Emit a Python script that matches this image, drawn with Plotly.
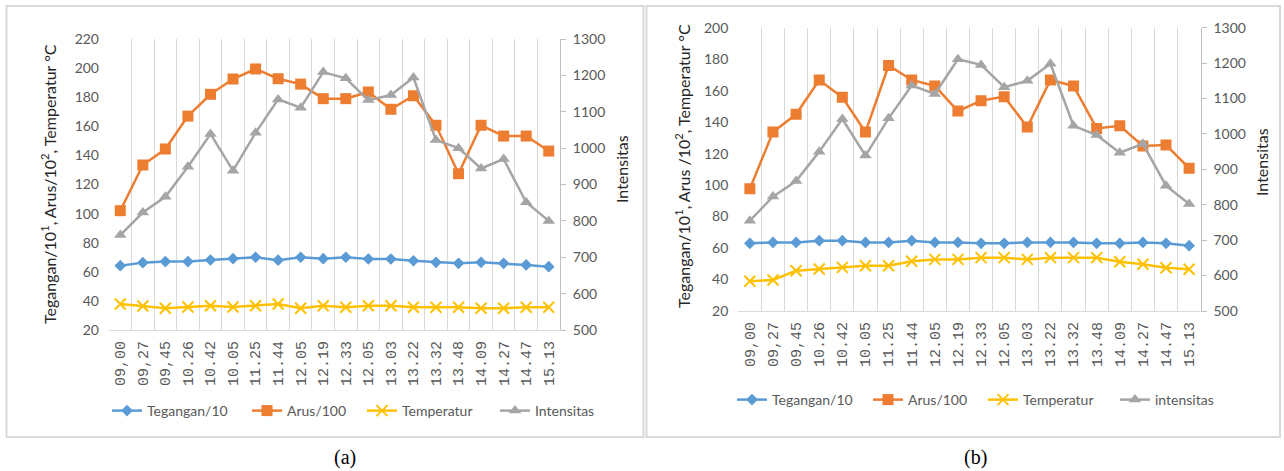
import plotly.graph_objects as go

W, H = 1284, 471

categories = ["09,00", "09,27", "09,45", "10.26", "10.42", "10.05", "11.25", "11.44", "12.05", "12.19",
              "12.33", "12.05", "13.03", "13.22", "13.32", "13.48", "14.09", "14.27", "14.47", "15.13"]

a_tegangan = [64.2, 66.3, 67, 67, 68.1, 69, 70, 68, 70, 69, 70, 68.8, 68.8, 67.6, 66.5, 65.8, 66.5, 65.8, 64.7, 63.5]
a_arus = [102, 133.4, 144.4, 167, 182, 192.5, 199.4, 192.7, 189, 179, 179, 183.6, 171.7, 181, 160.7, 127.4, 160.7, 153.3, 153.3, 143]
a_temperatur = [37.9, 36.5, 34.9, 35.8, 36.7, 35.8, 36.7, 37.9, 34.9, 36.7, 35.6, 36.7, 36.7, 35.6, 35.6, 35.6, 34.9, 34.9, 35.6, 35.6]
a_intensitas = [761, 823, 866, 949, 1039, 938, 1042, 1134, 1111, 1209, 1192, 1132, 1146, 1194, 1022, 1000, 944, 970, 851, 800]

b_tegangan = [63, 63.6, 63.6, 64.7, 64.7, 63.6, 63.6, 64.7, 63.6, 63.6, 63, 63, 63.6, 63.6, 63.6, 63, 63, 63.6, 63, 61.5]
b_arus = [97.7, 133.7, 145, 166.8, 155.8, 133.7, 176, 166.8, 163, 147, 153.6, 156.2, 136.9, 166.8, 163, 136, 137.7, 124.8, 125.5, 110.7]
b_temperatur = [38.9, 39.7, 45.6, 46.7, 47.7, 48.8, 48.8, 51.6, 52.8, 52.8, 53.9, 53.9, 52.8, 53.9, 53.9, 53.9, 51.3, 49.7, 47.5, 46.5]
b_intensitas = [755, 823, 867, 950, 1042, 939, 1044, 1137, 1113, 1211, 1195, 1132, 1150, 1198, 1023, 997, 947, 972, 854, 802]

names_a = ["Tegangan/10", "Arus/100", "Temperatur", "Intensitas"]
names_b = ["Tegangan/10", "Arus/100", "Temperatur", "intensitas"]

BLUE, ORANGE, YELLOW, GREY = "#5B9BD5", "#ED7D31", "#FFC000", "#A5A5A5"
TICK = "#595959"
GRID = "#D9D9D9"
FONT = "Lato, Carlito, 'Noto Sans', sans-serif"

xs = list(range(len(categories)))

fig = go.Figure()

def add_series(xa, ya, ya2, vals, names, legs):
    teg, aru, tem, inten = vals
    fig.add_trace(go.Scatter(x=xs, y=teg, name=names[0], mode="lines+markers", xaxis=xa, yaxis=ya,
                             line=dict(color=BLUE, width=2.5),
                             marker=dict(symbol="diamond", size=9, color=BLUE), legend=legs[0]))
    fig.add_trace(go.Scatter(x=xs, y=aru, name=names[1], mode="lines+markers", xaxis=xa, yaxis=ya,
                             line=dict(color=ORANGE, width=2.5),
                             marker=dict(symbol="square", size=11, color=ORANGE), legend=legs[1]))
    fig.add_trace(go.Scatter(x=xs, y=tem, name=names[2], mode="lines+markers", xaxis=xa, yaxis=ya,
                             line=dict(color=YELLOW, width=2.5),
                             marker=dict(symbol="x-thin", size=11, color=YELLOW,
                                         line=dict(color=YELLOW, width=2)), legend=legs[2]))
    fig.add_trace(go.Scatter(x=xs, y=inten, name=names[3], mode="lines+markers", xaxis=xa, yaxis=ya2,
                             line=dict(color=GREY, width=2.5),
                             marker=dict(symbol="triangle-up", size=11, color=GREY), legend=legs[3]))

add_series("x", "y", "y2", (a_tegangan, a_arus, a_temperatur, a_intensitas), names_a,
           ["legend", "legend2", "legend3", "legend4"])
add_series("x2", "y3", "y4", (b_tegangan, b_arus, b_temperatur, b_intensitas), names_b,
           ["legend5", "legend6", "legend7", "legend8"])

def px_x(p):
    return p / W

def px_y(p):
    return 1 - p / H

xaxis_common = dict(
    range=[-0.5, len(categories) - 0.5], tickmode="array", tickvals=xs, ticktext=categories,
    tickangle=-90, showgrid=False, showline=True, linecolor=GRID, linewidth=1, ticks="",
    ticklabelstandoff=4,
    tickfont=dict(family="'Liberation Mono', 'DejaVu Sans Mono', monospace", size=15, color=TICK),
    minor=dict(tickmode="linear", tick0=-0.5, dtick=1, showgrid=True, gridcolor=GRID, gridwidth=1, ticks=""),
    zeroline=False, fixedrange=True, automargin=False,
)

left_common = dict(showgrid=False, zeroline=False, showline=False, ticks="", automargin=False,
                   ticklabelstandoff=9,
                   tickfont=dict(family=FONT, size=14, color=TICK), tickmode="linear", dtick=20)
right_common = dict(showgrid=False, zeroline=False, showline=True, linecolor="#BFBFBF", linewidth=1,
                    ticks="outside", ticklen=5, tickcolor="#BFBFBF", side="right", automargin=False,
                    ticklabelstandoff=4,
                    tickfont=dict(family=FONT, size=14, color=TICK), tickmode="linear", dtick=100,
                    range=[500, 1300])

dom_a_x = [px_x(109), px_x(560)]
dom_a_y = [px_y(330), px_y(39)]
dom_b_x = [px_x(738.3), px_x(1200.7)]
dom_b_y = [px_y(311), px_y(27.7)]

fig.update_layout(
    template="none",
    width=W, height=H, margin=dict(l=0, r=0, t=0, b=0, autoexpand=False),
    paper_bgcolor="white", plot_bgcolor="white",
    font=dict(family=FONT, size=14, color=TICK),
    showlegend=True,
    xaxis=dict(domain=dom_a_x, anchor="y", **xaxis_common),
    yaxis=dict(domain=dom_a_y, anchor="x", range=[20, 220], **left_common),
    yaxis2=dict(overlaying="y", anchor="x", **right_common),
    xaxis2=dict(domain=dom_b_x, anchor="y3", **xaxis_common),
    yaxis3=dict(domain=dom_b_y, anchor="x2", range=[20, 200], **left_common),
    yaxis4=dict(overlaying="y3", anchor="x2", **right_common),
)

# legends: one per entry, positioned like the original
leg_font = dict(family=FONT, size=14, color=TICK)
leg_pos = {
    "legend": (112, 411), "legend2": (252, 411), "legend3": (367, 411), "legend4": (500, 411),
    "legend5": (737, 400), "legend6": (873, 400), "legend7": (988, 400), "legend8": (1120, 400),
}
for key, (lx, ly) in leg_pos.items():
    fig.update_layout({key: dict(x=px_x(lx - 5), y=px_y(ly), xanchor="left", yanchor="middle",
                                 orientation="h", bgcolor="rgba(0,0,0,0)", font=leg_font,
                                 itemsizing="trace", visible=True)})

# axis titles
title_font = dict(family=FONT, size=16, color="#262626")
def add_text(px, py, text, font, angle=0):
    fig.add_annotation(x=px_x(px), y=px_y(py), xref="paper", yref="paper", showarrow=False,
                       textangle=angle, xanchor="center", yanchor="middle", text=text, font=font)

add_text(48, 184, "Tegangan/10<sup>1</sup>, Arus/10<sup>2</sup>, Temperatur °C", title_font, -90)
add_text(622, 169, "Intensitas", title_font, -90)
add_text(683, 166, "Tegangan/10<sup>1</sup>, Arus /10<sup>2</sup>, Temperatur °C", title_font, -90)
add_text(1262, 162, "Intensitas", title_font, -90)

# captions
cap_font = dict(family="'Liberation Serif', 'Times New Roman', serif", size=20, color="black")
add_text(345, 457, "(a)", cap_font)
add_text(975, 457, "(b)", cap_font)

# panel frames
for x0, x1 in [(6.5, 643.5), (646.5, 1280)]:
    fig.add_shape(type="rect", xref="paper", yref="paper", x0=px_x(x0), x1=px_x(x1), y0=px_y(437), y1=px_y(6),
                  line=dict(color=GRID, width=2), fillcolor="rgba(0,0,0,0)", layer="below")

fig.write_html("out.html", config={"displayModeBar": False},
               post_script="document.body.style.margin='0';document.body.style.overflow='hidden';")
